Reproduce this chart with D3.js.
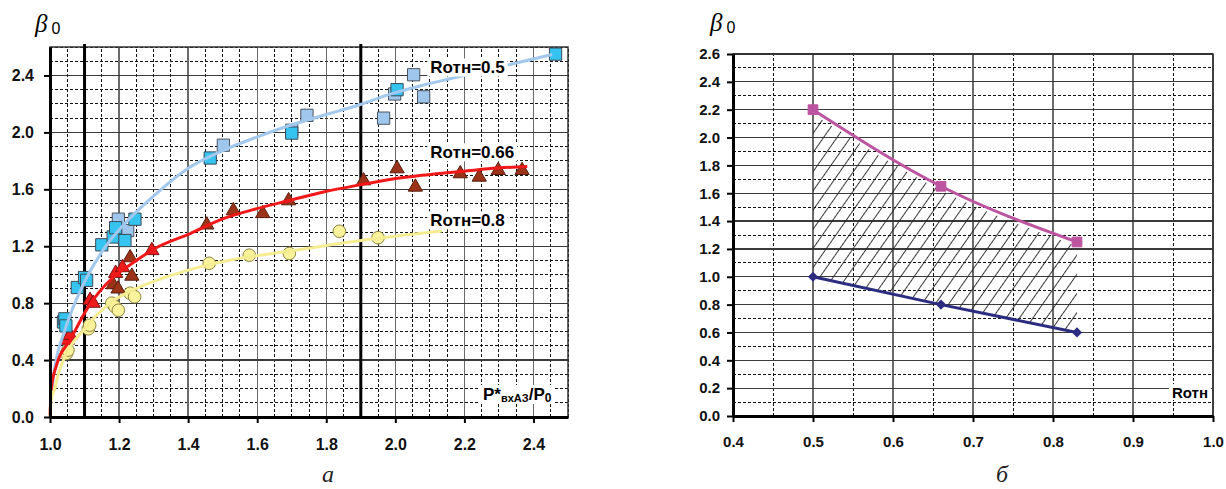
<!DOCTYPE html>
<html>
<head>
<meta charset="utf-8">
<script src="https://cdn.jsdelivr.net/npm/d3@7"></script>
<style>
	body { margin: 0; background: #fff; }
	svg text { font-family: "Liberation Sans", Arial, sans-serif; }
</style>
</head>
<body>
<svg id="chart" width="1226" height="489"></svg>
<script>
'use strict';

/*** Data: chart a ***/
var xTicksA = [1.0, 1.2, 1.4, 1.6, 1.8, 2.0, 2.2, 2.4];
var yTicksA = [0.0, 0.4, 0.8, 1.2, 1.6, 2.0, 2.4];
var boundLinesA = [1.1, 1.9];
var curveLabelsA = ['Rотн=0.5', 'Rотн=0.66', 'Rотн=0.8'];

// Rотн = 0.5, squares (two shades in the source)
var squaresBright = [[1.039, 0.668], [1.043, 0.69], [1.046, 0.64], [1.079, 0.91], [1.10, 0.98], [1.106, 0.96],
	[1.15, 1.21], [1.183, 1.265], [1.19, 1.33], [1.217, 1.24], [1.246, 1.39], [1.464, 1.82],
	[1.70, 1.995], [2.005, 2.30], [2.464, 2.55]];
var squaresPale = [[1.198, 1.39], [1.225, 1.31], [1.502, 1.91], [1.70, 2.015], [1.744, 2.12],
	[1.966, 2.10], [1.998, 2.27], [2.053, 2.405], [2.082, 2.25]];

// Rотн = 0.66, triangles
var trianglesBright = [[1.05, 0.54], [1.058, 0.575], [1.116, 0.82], [1.125, 0.80], [1.19, 1.01],
	[1.21, 1.05], [1.295, 1.17]];
var trianglesDark = [[1.183, 0.93], [1.197, 0.90], [1.232, 1.12], [1.237, 0.99], [1.454, 1.35],
	[1.531, 1.45], [1.616, 1.43], [1.691, 1.52], [1.908, 1.66], [2.005, 1.745], [2.058, 1.616],
	[2.188, 1.71], [2.243, 1.686], [2.298, 1.733], [2.367, 1.733]];

// Rотн = 0.8, circles
var circles = [[1.048, 0.447], [1.052, 0.47], [1.111, 0.62], [1.115, 0.645], [1.179, 0.80],
	[1.188, 0.775], [1.198, 0.75], [1.232, 0.87], [1.245, 0.845], [1.461, 1.08], [1.577, 1.137],
	[1.693, 1.149], [1.838, 1.305], [1.95, 1.26]];

// trend curves
var trend05 = [[1.001, 0.1], [1.014, 0.35], [1.043, 0.61], [1.10, 0.95], [1.16, 1.195], [1.217, 1.36],
	[1.285, 1.52], [1.406, 1.757], [1.502, 1.874], [1.599, 1.967], [1.696, 2.05], [1.792, 2.12],
	[1.899, 2.196], [1.98, 2.265], [2.077, 2.33], [2.164, 2.38], [2.338, 2.48], [2.454, 2.547]];
var trend066 = [[1.0, 0.01], [1.004, 0.2], [1.019, 0.365], [1.058, 0.54], [1.111, 0.774], [1.179, 0.973],
	[1.237, 1.078], [1.304, 1.184], [1.406, 1.289], [1.502, 1.394], [1.599, 1.464], [1.696, 1.523],
	[1.792, 1.581], [1.899, 1.632], [1.98, 1.667], [2.077, 1.698], [2.174, 1.721], [2.27, 1.745],
	[2.382, 1.761]];
var trend08 = [[1.0, 0.0], [1.004, 0.13], [1.014, 0.2], [1.024, 0.3], [1.048, 0.447], [1.10, 0.62],
	[1.174, 0.80], [1.261, 0.915], [1.338, 0.985], [1.435, 1.055], [1.531, 1.107], [1.628, 1.144],
	[1.725, 1.177], [1.884, 1.235], [2.135, 1.307]];

/*** Data: chart б ***/
var rotn = [0.5, 0.66, 0.83];
var betaUpper = [2.2, 1.65, 1.25];
var betaLower = [1.0, 0.8, 0.6];
var xTicksB = [0.4, 0.5, 0.6, 0.7, 0.8, 0.9, 1.0];
var yTicksB = [0.0, 0.2, 0.4, 0.6, 0.8, 1.0, 1.2, 1.4, 1.6, 1.8, 2.0, 2.2, 2.4, 2.6];

var svg = d3.select('#chart');
var fmt = d3.format('.1f');

/*** Helpers ***/
function drawGrid(g, x, y, xMinor, xMajor, yMinor, yMajor) {
	var xr = x.range(), yr = y.range();
	function lines(cls, vals, vertical, color, width, dash) {
		g.selectAll('line.' + cls)
			.data(vals)
			.enter()
			.append('line')
			.attr('class', cls)
			.attr('x1', function(d) { return vertical ? x(d) : xr[0]; })
			.attr('x2', function(d) { return vertical ? x(d) : xr[1]; })
			.attr('y1', function(d) { return vertical ? yr[0] : y(d); })
			.attr('y2', function(d) { return vertical ? yr[1] : y(d); })
			.attr('stroke', color)
			.attr('stroke-width', width)
			.attr('stroke-dasharray', dash)
			.attr('shape-rendering', 'crispEdges');
	}
	lines('vminor', xMinor, true, '#111', 1, '3,2');
	lines('hminor', yMinor, false, '#111', 1, '3,2');
	lines('vmajor', xMajor, true, '#6a6a6a', 1.4, null);
	lines('hmajor', yMajor, false, '#3a3a3a', 1.2, null);
}

function drawFrame(g, x, y) {
	var xr = x.range(), yr = y.range();
	g.append('rect')
		.attr('x', xr[0]).attr('y', yr[1])
		.attr('width', xr[1] - xr[0]).attr('height', yr[0] - yr[1])
		.attr('fill', 'none').attr('stroke', '#333').attr('stroke-width', 1.5);
}

function drawAxes(g, x, y, xVals, yVals, yPad, xBase, fontSize) {
	var xr = x.range(), yr = y.range();
	var ax = g.append('g')
		.attr('transform', 'translate(0,' + yr[0] + ')')
		.call(d3.axisBottom(x).tickValues(xVals).tickFormat(fmt).tickSize(6).tickSizeOuter(0));
	var ay = g.append('g')
		.attr('transform', 'translate(' + xr[0] + ',0)')
		.call(d3.axisLeft(y).tickValues(yVals).tickFormat(fmt).tickSize(6).tickSizeOuter(0).tickPadding(yPad));
	[ax, ay].forEach(function(a) {
		a.select('.domain').attr('stroke', '#000').attr('stroke-width', 3);
		a.selectAll('.tick line').attr('stroke', '#000').attr('stroke-width', 2);
		a.selectAll('.tick text')
			.attr('fill', '#111')
			.style('font-size', fontSize + 'px')
			.style('font-weight', 'bold');
	});
	ax.selectAll('.tick text').attr('dy', null).attr('y', xBase);
}

function drawMarkers(g, data, type, size, fill, stroke, x, y) {
	g.selectAll(null)
		.data(data)
		.enter()
		.append('path')
		.attr('d', d3.symbol().type(type).size(size))
		.attr('transform', function(d) { return 'translate(' + x(d[0]) + ',' + y(d[1]) + ')'; })
		.attr('fill', fill)
		.attr('stroke', stroke)
		.attr('stroke-width', 1);
}

function whiteBox(label, pad) {
	var b = label.node().getBBox();
	label.insert('rect', ':first-child')
		.attr('x', b.x - pad).attr('y', b.y)
		.attr('width', b.width + pad * 2).attr('height', b.height - 1)
		.attr('fill', '#fff');
}

function betaTitle(x, y) {
	var t = svg.append('text').attr('x', x).attr('y', y);
	t.append('tspan')
		.style('font-family', '"Liberation Serif", "Times New Roman", serif')
		.style('font-style', 'italic')
		.style('font-size', '25px')
		.text('β');
	t.append('tspan')
		.attr('dx', 4).attr('dy', 2)
		.style('font-size', '16px')
		.text('0');
}

function figureLetter(x, y, letter) {
	svg.append('text')
		.attr('x', x).attr('y', y)
		.attr('text-anchor', 'middle')
		.style('font-family', '"Liberation Serif", "Times New Roman", serif')
		.style('font-style', 'italic')
		.style('font-size', '24px')
		.attr('fill', '#222')
		.text(letter);
}

/*** Chart a ***/
var xA = d3.scaleLinear().domain([1.0, 2.5]).range([50, 568]);
var yA = d3.scaleLinear().domain([0, 2.6]).range([417, 47]);
var gA = svg.append('g');

drawGrid(gA, xA, yA, xA.ticks(30), xTicksA, yA.ticks(26), yTicksA);
drawFrame(gA, xA, yA);

gA.selectAll('line.bound')
	.data(boundLinesA)
	.enter()
	.append('line')
	.attr('class', 'bound')
	.attr('x1', xA).attr('x2', xA)
	.attr('y1', yA.range()[1] - 3).attr('y2', yA.range()[0])
	.attr('stroke', '#000').attr('stroke-width', 3);

drawMarkers(gA, circles, d3.symbolCircle, 125, '#fbf39c', '#8a8440', xA, yA);
drawMarkers(gA, trianglesDark, d3.symbolTriangle, 88, '#9a3318', '#5a1e0e', xA, yA);
drawMarkers(gA, trianglesBright, d3.symbolTriangle, 88, '#ee1c1c', '#7a1010', xA, yA);
drawMarkers(gA, squaresPale, d3.symbolSquare, 150, '#9fc6ec', '#4a5560', xA, yA);
drawMarkers(gA, squaresBright, d3.symbolSquare, 150, '#35c4f0', '#3a4a55', xA, yA);

var trendLine = d3.line()
	.x(function(d) { return xA(d[0]); })
	.y(function(d) { return yA(d[1]); })
	.curve(d3.curveMonotoneX);
[[trend05, '#a2c8ee'], [trend066, '#f01818'], [trend08, '#f6ec92']].forEach(function(t) {
	gA.append('path')
		.attr('d', trendLine(t[0]))
		.attr('fill', 'none')
		.attr('stroke', t[1])
		.attr('stroke-width', 3);
});

// series labels
var labelPosA = [[2.113, 2.449], [2.113, 1.853], [2.113, 1.375]];
curveLabelsA.forEach(function(txt, i) {
	var lg = gA.append('g');
	lg.append('text')
		.attr('x', xA(labelPosA[i][0]) - 4)
		.attr('y', yA(labelPosA[i][1]) + 5)
		.style('font-size', '17px')
		.style('font-weight', 'bold')
		.attr('fill', '#000')
		.text(txt);
	whiteBox(lg, 3);
});

// x axis title
var pg = gA.append('g');
var pt = pg.append('text')
	.attr('x', 483).attr('y', 400)
	.style('font-weight', 'bold')
	.style('font-size', '17px');
pt.append('tspan').text('P*');
pt.append('tspan').attr('dy', 2).style('font-size', '11px').text('вхАЗ');
pt.append('tspan').attr('dy', -2).text('/P');
pt.append('tspan').attr('dy', 2).style('font-size', '12px').text('0');
whiteBox(pg, 3);

drawAxes(gA, xA, yA, xTicksA, yTicksA, 10, 33, 16);
betaTitle(35, 32);
figureLetter(328, 482, 'а');

/*** Chart б ***/
var xB = d3.scaleLinear().domain([0.4, 1.0]).range([733, 1213]);
var yB = d3.scaleLinear().domain([0, 2.6]).range([416, 54]);
var gB = svg.append('g');

drawGrid(gB, xB, yB, xB.ticks(12), xTicksB, yB.ticks(26), yTicksB);
drawFrame(gB, xB, yB);

var rowsB = rotn.map(function(r, i) { return { r: r, hi: betaUpper[i], lo: betaLower[i] }; });

// hatched zone between the two lines
var hatch = svg.append('defs').append('pattern')
	.attr('id', 'hatch')
	.attr('patternUnits', 'userSpaceOnUse')
	.attr('width', 11).attr('height', 11)
	.attr('patternTransform', 'rotate(35)');
hatch.append('line')
	.attr('x1', 5.5).attr('x2', 5.5).attr('y1', 0).attr('y2', 11)
	.attr('stroke', '#222').attr('stroke-width', 0.9);

var zone = d3.area()
	.x(function(d) { return xB(d.r); })
	.y0(function(d) { return yB(d.lo); })
	.y1(function(d) { return yB(d.hi) + 4; })
	.curve(d3.curveMonotoneX);
gB.append('path').attr('d', zone(rowsB)).attr('fill', 'url(#hatch)');

var upperLine = d3.line()
	.x(function(d) { return xB(d.r); })
	.y(function(d) { return yB(d.hi); })
	.curve(d3.curveMonotoneX);
var lowerLine = d3.line()
	.x(function(d) { return xB(d.r); })
	.y(function(d) { return yB(d.lo); });

gB.append('path').attr('d', upperLine(rowsB))
	.attr('fill', 'none').attr('stroke', '#bd54a0').attr('stroke-width', 3);
gB.append('path').attr('d', lowerLine(rowsB))
	.attr('fill', 'none').attr('stroke', '#2c2c80').attr('stroke-width', 3);

drawMarkers(gB, rowsB.map(function(d) { return [d.r, d.hi]; }), d3.symbolSquare, 95, '#bd54a0', '#bd54a0', xB, yB);
gB.selectAll(null)
	.data(rowsB)
	.enter()
	.append('path')
	.attr('d', d3.symbol().type(d3.symbolSquare).size(52))
	.attr('transform', function(d) { return 'translate(' + xB(d.r) + ',' + yB(d.lo) + ') rotate(45)'; })
	.attr('fill', '#2c2c80');

var rg = gB.append('g');
rg.append('text')
	.attr('x', 1172).attr('y', 398)
	.style('font-size', '15px')
	.style('font-weight', 'bold')
	.text('Rотн');
whiteBox(rg, 3);

drawAxes(gB, xB, yB, xTicksB, yTicksB, 7, 31, 15);
betaTitle(710, 31);
figureLetter(1002, 482, 'б');
</script>
</body>
</html>
